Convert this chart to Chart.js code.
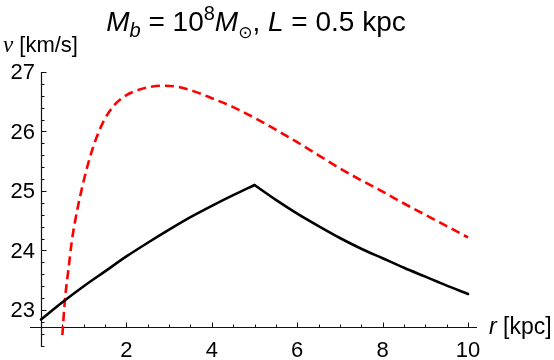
<!DOCTYPE html>
<html><head><meta charset="utf-8">
<script src="https://cdn.jsdelivr.net/npm/chart.js@4/dist/chart.umd.min.js"></script>
<style>html,body{margin:0;padding:0;background:#fff}#wrap{width:554px;height:360px;position:relative}</style>
</head><body><div id="wrap"><canvas id="c" width="554" height="360"></canvas></div>
<script>
// ---- data ----
const rBlack=[0,0.5,1,1.5,2,2.5,3,3.5,4,4.5,5,5.5,6,6.5,7,7.5,8,8.5,9,9.5,10];
const vBlack=[22.84,23.13,23.40,23.65,23.90,24.13,24.35,24.56,24.75,24.93,25.10,24.85,24.62,24.41,24.21,24.03,23.87,23.71,23.56,23.41,23.27];
const rRed=[0.5,0.56,0.64,0.72,0.8,0.95,1.1,1.25,1.45,1.7,2.0,2.24,2.5,2.8,3.2,3.6,4.0,4.5,5.0,5.5,6.0,6.5,7.0,7.5,8.0,8.5,9.0,9.5,10];
const vRed=[22.58,23.17,23.67,24.15,24.50,25.02,25.45,25.80,26.15,26.43,26.61,26.69,26.74,26.77,26.75,26.67,26.56,26.41,26.23,26.03,25.82,25.60,25.38,25.18,24.99,24.79,24.60,24.41,24.22];
const blackPeakR=5;
const xMajorTicks=[2,4,6,8,10];
const xTickLabels=['2','4','6','8','10'];
const yMajorTicks=[23,24,25,26,27];
const yTickLabels=['23','24','25','26','27'];
const xMinorStep=0.5, yMinorStep=0.2;
const axisCross={x:0,y:22.71};
const xLabel=['r',' [kpc]'];
const yLabel=['v',' [km/s]'];

const SANS='"Liberation Sans", Arial, "DejaVu Sans", sans-serif';

function drawRuns(ctx,runs,x,y,align){
  let w=0; runs.forEach(r=>{ctx.font=r[1]; w+=ctx.measureText(r[0]).width;});
  let cx = align==='center'? x-w/2 : x;
  runs.forEach(r=>{ctx.font=r[1]; ctx.fillText(r[0],cx,y+(r[2]||0)); cx+=ctx.measureText(r[0]).width;});
}

const axesPlugin={id:'mmaAxes',
  beforeDatasetsDraw(chart){
    const ctx=chart.ctx, xs=chart.scales.x, ys=chart.scales.y;
    const ox=Math.round(xs.getPixelForValue(axisCross.x))+0.5;
    const oy=Math.round(ys.getPixelForValue(axisCross.y))+0.5;
    ctx.save();
    ctx.strokeStyle='#111'; ctx.lineWidth=1.2;
    ctx.beginPath();
    ctx.moveTo(xs.left,oy); ctx.lineTo(xs.right,oy);
    ctx.moveTo(ox,ys.top); ctx.lineTo(ox,ys.bottom);
    ctx.stroke();
    ctx.lineWidth=1;
    ctx.beginPath();
    for(let i=1;i*xMinorStep<=xs.max+1e-9;i++){
      const v=i*xMinorStep; const p=Math.round(xs.getPixelForValue(v))+0.5;
      const len=xMajorTicks.includes(v)?5:3;
      ctx.moveTo(p,oy); ctx.lineTo(p,oy-len);
    }
    const y0=Math.ceil(ys.min/yMinorStep-1e-9);
    for(let i=y0;i*yMinorStep<=ys.max+1e-9;i++){
      const v=+(i*yMinorStep).toFixed(3); const p=Math.round(ys.getPixelForValue(v))+0.5;
      const len=yMajorTicks.includes(v)?5:3;
      ctx.moveTo(ox,p); ctx.lineTo(ox+len,p);
    }
    ctx.stroke();
    ctx.restore();
  },
  afterDraw(chart){
    const ctx=chart.ctx, xs=chart.scales.x, ys=chart.scales.y;
    const ox=xs.getPixelForValue(axisCross.x), oy=ys.getPixelForValue(axisCross.y);
    ctx.save(); ctx.fillStyle='#000';
    ctx.font='22px '+SANS; ctx.textBaseline='middle';
    ctx.textAlign='center';
    xMajorTicks.forEach((v,i)=>ctx.fillText(xTickLabels[i],xs.getPixelForValue(v),351));
    ctx.textAlign='right';
    yMajorTicks.forEach((v,i)=>ctx.fillText(yTickLabels[i],ox-6,ys.getPixelForValue(v)+1));
    ctx.textAlign='left';
    drawRuns(ctx,[[xLabel[0],'italic 23px '+SANS],[xLabel[1],'23px '+SANS]],xs.right+12,oy,'left');
    drawRuns(ctx,[[yLabel[0],'italic 23px "Liberation Serif", serif'],[yLabel[1],'22px '+SANS]],3,46,'left');
    ctx.textBaseline='alphabetic';
    const F=28, it='italic '+F+'px '+SANS, rg=F+'px '+SANS, sm=Math.round(F*0.7)+'px '+SANS, smi='italic '+sm;
    drawRuns(ctx,[
      ['M',it],['b',smi,6],[' = 10',rg],['8',sm,-11],['M',it],['\u2299','17px "DejaVu Sans", sans-serif',7],
      [', ',rg],['L',it],[' = 0.5 kpc',rg]
    ],256,31,'center');
    ctx.restore();
  }
};

const pts=(xs,ys)=>xs.map((x,i)=>({x:x,y:ys[i]}));
const kPeak=rBlack.indexOf(blackPeakR);
const blackStyle={borderColor:'#000',borderWidth:2.6,pointRadius:0,fill:false,cubicInterpolationMode:'monotone',borderCapStyle:'round',borderJoinStyle:'miter'};
new Chart(document.getElementById('c'),{
  type:'line',
  data:{datasets:[
    Object.assign({data:pts(rBlack.slice(0,kPeak+1),vBlack.slice(0,kPeak+1))},blackStyle),
    Object.assign({data:pts(rBlack.slice(kPeak),vBlack.slice(kPeak))},blackStyle),
    {data:pts(rRed,vRed),borderColor:'#ff0000',borderWidth:2.6,borderDash:[9,5],pointRadius:0,fill:false,cubicInterpolationMode:'monotone'}
  ]},
  options:{
    responsive:false,animation:false,
    layout:{padding:{left:30,right:77,top:72,bottom:13}},
    plugins:{legend:{display:false},tooltip:{enabled:false},title:{display:false}},
    scales:{
      x:{type:'linear',min:-0.258,max:10.21,display:false},
      y:{type:'linear',min:22.378,max:27.0,display:false}
    }
  },
  plugins:[axesPlugin]
});
</script></body></html>
